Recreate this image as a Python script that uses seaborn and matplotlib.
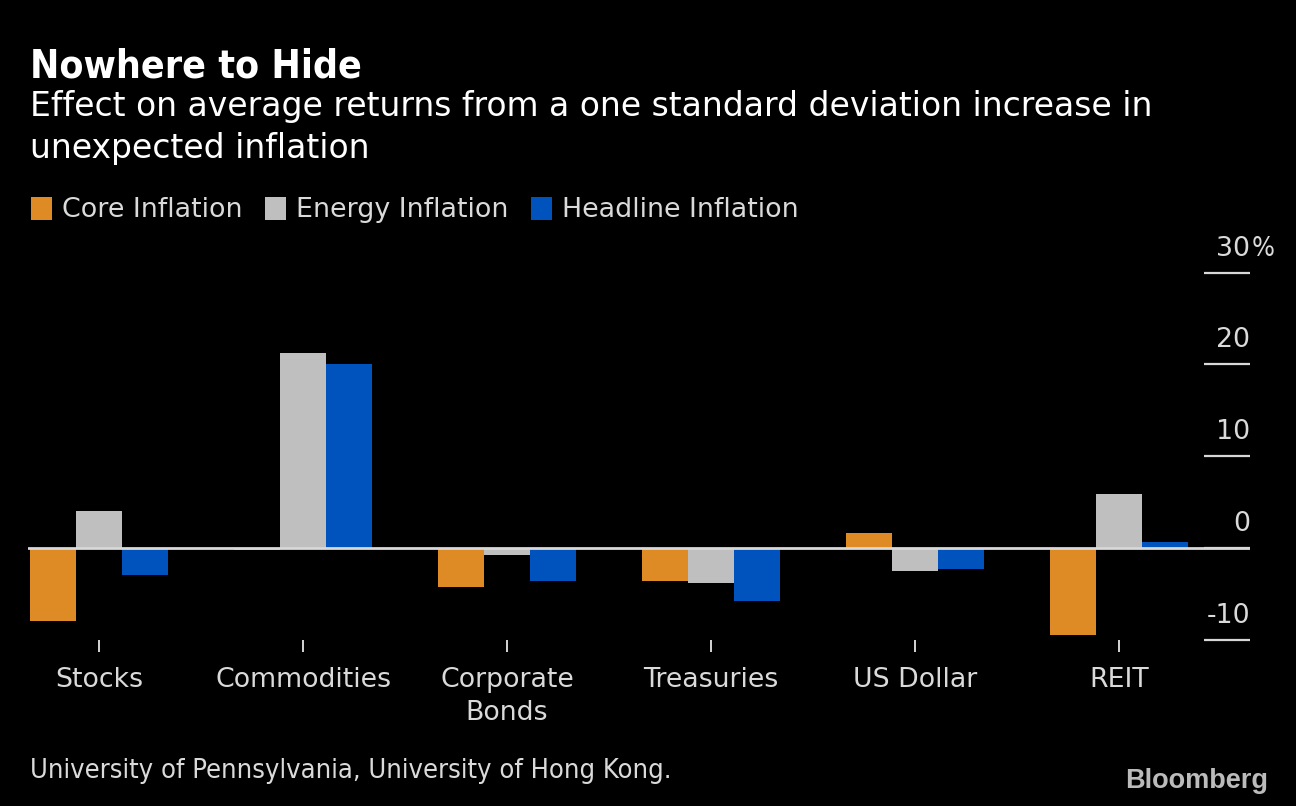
import matplotlib
matplotlib.use("Agg")
import matplotlib.pyplot as plt
import matplotlib.transforms as mtransforms
import seaborn as sns
import pandas as pd

# ---- data ----
categories = ["Stocks", "Commodities", "Corporate\nBonds", "Treasuries", "US Dollar", "REIT"]
series_names = ["Core Inflation", "Energy Inflation", "Headline Inflation"]
core_inflation = [-8.0, -0.2, -4.3, -3.6, 1.6, -9.5]
energy_inflation = [4.0, 21.2, -0.8, -3.8, -2.5, 5.9]
headline_inflation = [-3.0, 20.1, -3.6, -5.8, -2.3, 0.7]
y_ticks = [-10, 0, 10, 20, 30]
y_tick_labels = ["-10", "0", "10", "20", "30"]

colors = ["#DE8B25", "#BFBFBF", "#0052BD"]
TXT = "#DADADA"

df = pd.DataFrame({
    "asset": categories * 3,
    "series": [series_names[0]] * 6 + [series_names[1]] * 6 + [series_names[2]] * 6,
    "value": core_inflation + energy_inflation + headline_inflation,
})

sns.set_theme(style="dark")
plt.rcParams["font.family"] = ["DejaVu Sans"]
plt.rcParams["font.stretch"] = "normal"

W, H = 1296, 806
fig = plt.figure(figsize=(W / 100, H / 100), dpi=100, facecolor="black")

ax_l, ax_r, ax_t, ax_b = 28, 1250, 272.7, 639.7
ax = fig.add_axes([ax_l / W, 1 - ax_b / H, (ax_r - ax_l) / W, (ax_b - ax_t) / H])
ax.set_facecolor("black")

sns.barplot(data=df, x="asset", y="value", hue="series", hue_order=series_names,
            order=categories, palette=colors, width=0.676, errorbar=None,
            linewidth=0, saturation=1, ax=ax)

ax.set_xlim(-0.348, 5.642)
ax.set_ylim(-10, 30)
for s in ax.spines.values():
    s.set_visible(False)
ax.grid(False)
ax.set_xlabel("")
ax.set_ylabel("")

# zero line
ax.axhline(0, color="#D8D8D8", lw=2, zorder=4)

# x ticks
ax.tick_params(axis="x", which="both", bottom=True, length=12 * 0.72, width=2 * 0.72,
               color="#CFCFCF", pad=11, labelsize=19.3, labelcolor=TXT)
ax.set_xticks(range(len(categories)))
ax.set_xticklabels(categories, linespacing=1.35)
ax.tick_params(axis="y", left=False, right=False, labelleft=False)
ax.set_yticks([])

# y ticks (right side, short lines with labels above)
blend = mtransforms.blended_transform_factory(ax.transAxes, ax.transData)
x0 = (1204 - ax_l) / (ax_r - ax_l)
for v, lab in zip(y_ticks, y_tick_labels):
    ax.plot([x0, 1.0], [v, v], transform=blend, color="#D8D8D8", lw=1.6,
            clip_on=False, zorder=4, solid_capstyle="butt")
    off = mtransforms.offset_copy(blend, fig=fig, x=0, y=17, units="dots")
    ax.text(1.0, v, lab, transform=off, ha="right", va="baseline",
            fontsize=19.3, color=TXT, clip_on=False)
    if v == y_ticks[-1]:
        ax.text(1.0, v, "%", transform=mtransforms.offset_copy(blend, fig=fig, x=2, y=17, units="dots"),
                ha="left", va="baseline", fontsize=19.3, color=TXT, clip_on=False,
                fontstretch="condensed")

# legend
handles, labels = ax.get_legend_handles_labels()
if ax.legend_:
    ax.legend_.remove()
fig.legend(handles, labels, loc="center left", bbox_to_anchor=(31 / W, 1 - 210 / H),
           ncol=3, frameon=False, fontsize=19.35, labelcolor=TXT,
           handlelength=0.78, handleheight=0.95, handletextpad=0.37,
           columnspacing=0.85, borderaxespad=0, borderpad=0)

# titles
fig.text(30 / W, 1 - 77 / H, "Nowhere to Hide", fontsize=28.1, fontweight="bold",
         color="white", ha="left", va="baseline", fontstretch="condensed")
fig.text(30 / W, 1 - 116 / H, "Effect on average returns from a one standard deviation increase in",
         fontsize=23.8, color="white", ha="left", va="baseline")
fig.text(30 / W, 1 - 158 / H, "unexpected inflation",
         fontsize=23.8, color="white", ha="left", va="baseline")

# footer
fig.text(30 / W, 1 - 777.5 / H, "University of Pennsylvania, University of Hong Kong.",
         fontsize=19.5, color=TXT, ha="left", va="baseline", fontstretch="condensed")
fig.text(1268 / W, 1 - 788 / H, "Bloomberg", fontsize=19.5, fontweight="bold",
         color="#BBBBBB", ha="right", va="baseline",
         family=["Liberation Sans", "DejaVu Sans"], fontstretch="normal")

fig.savefig("out.png", dpi=100, facecolor="black")
